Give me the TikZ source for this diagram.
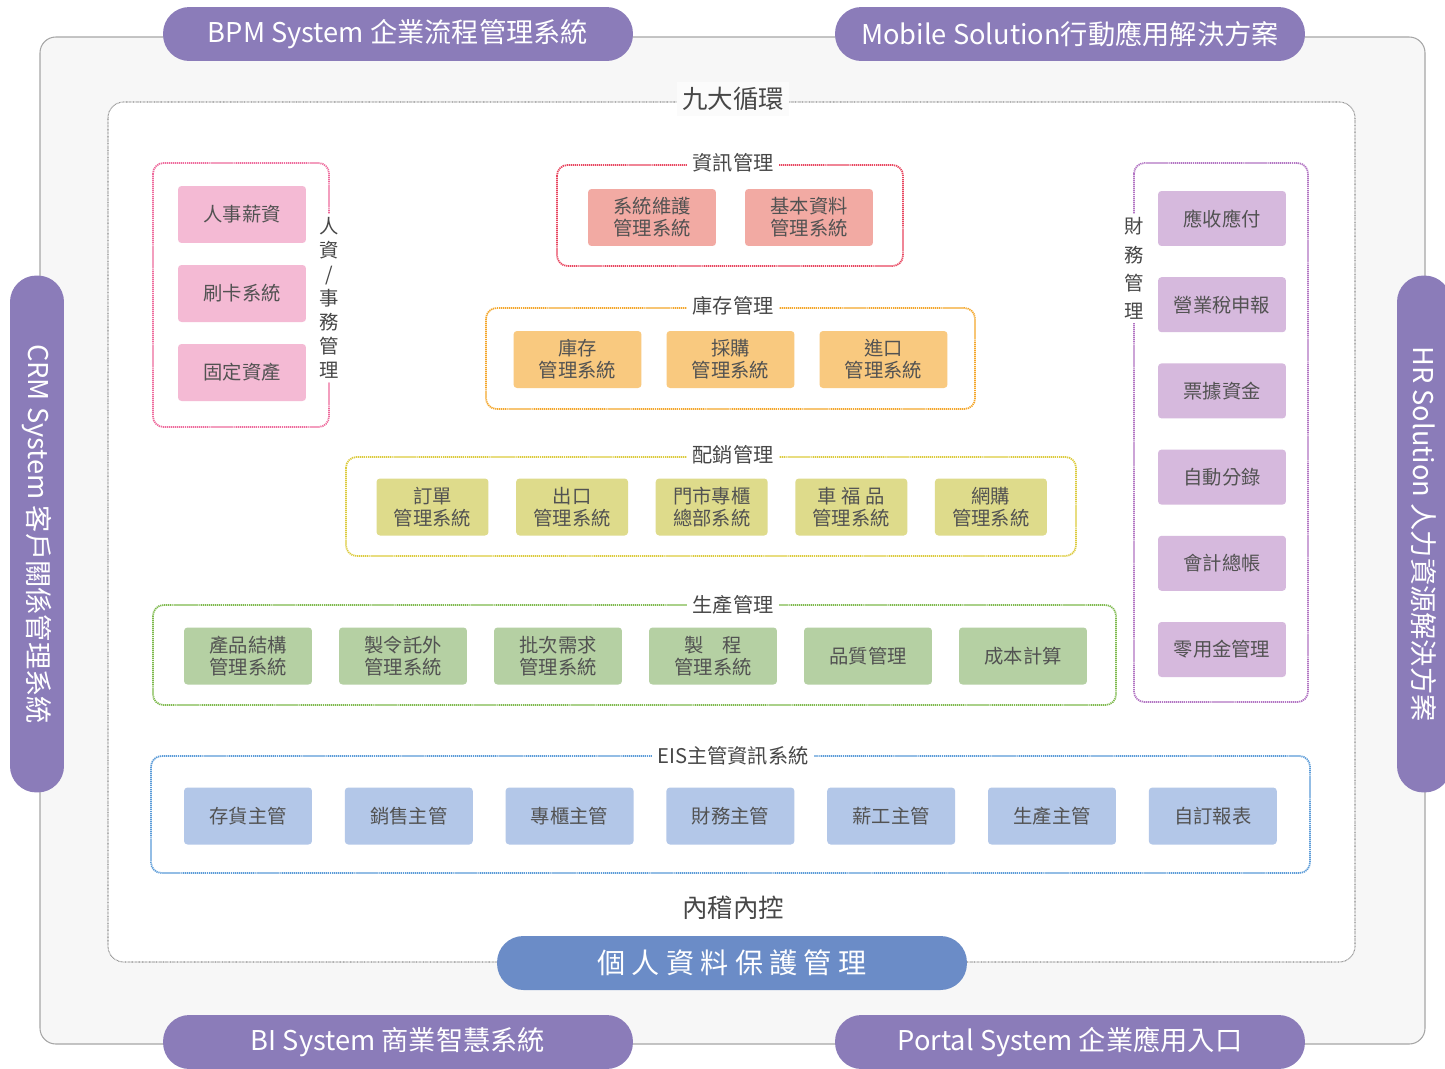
\documentclass[tikz,border=0pt]{standalone}
\usepackage{fontspec}
\setmainfont{Noto Sans CJK TC}
\usepackage{tikz}
\usetikzlibrary{positioning,calc}
\definecolor{pillpurple}{HTML}{8B7CB9}
\definecolor{pillblue}{HTML}{6B8CC7}
\definecolor{hrfill}{HTML}{F4BAD4}
\definecolor{hrline}{HTML}{EE6A9C}
\definecolor{infofill}{HTML}{F2AAA3}
\definecolor{infoline}{HTML}{E8455F}
\definecolor{invfill}{HTML}{F9C97F}
\definecolor{invline}{HTML}{F4A62A}
\definecolor{distfill}{HTML}{DEDB8B}
\definecolor{distline}{HTML}{DCCB3C}
\definecolor{prodfill}{HTML}{B5D0A3}
\definecolor{prodline}{HTML}{7DB94C}
\definecolor{finfill}{HTML}{D6B9DD}
\definecolor{finline}{HTML}{B274C3}
\definecolor{eisfill}{HTML}{B3C7E8}
\definecolor{eisline}{HTML}{5A9BD8}
\tikzset{
  pill/.style={rectangle, rounded corners=15pt, fill=pillpurple, text=white,
    minimum width=9.4cm, minimum height=1.08cm, inner sep=0pt,
    font=\fontsize{15.5}{18}\selectfont},
  modbox/.style={rectangle, rounded corners=2pt, minimum width=2.56cm,
    minimum height=1.14cm, inner sep=1pt, align=center, text=black!68,
    font=\fontsize{11}{12.6}\selectfont},
  grouplabel/.style={fill=white, text=black!72, inner sep=3pt,
    font=\fontsize{11.5}{13}\selectfont},
  vlabel/.style={fill=white, text=black!72, inner sep=2pt, align=center},
  groupframe/.style={rounded corners=6pt, line width=1pt,
    dash pattern=on 0.7pt off 0.45pt}
}

\begin{document}
\begin{tikzpicture}[x=0.02cm,y=-0.02cm]
\clip (0,0) rectangle (1445,1069);
\fill[white] (0,0) rectangle (1445,1069);
% outer and inner frame
\draw[black!35,fill=black!3,rounded corners=9pt,line width=0.6pt] (40,37) rectangle (1425,1044);
\draw[black!45,fill=white,rounded corners=9pt,line width=0.6pt,dash pattern=on 0.4pt off 0.4pt] (108,102) rectangle (1355,962);
\node[grouplabel,fill=black!1.5,font=\fontsize{14.5}{16}\selectfont] (cycle) at (733,99) {九大循環};
\node[text=black!72,font=\fontsize{14.5}{16}\selectfont] (audit) at (733,908) {內稽內控};

% system pills
\node[pill] (bpm) at (398,34) {BPM System 企業流程管理系統};
\node[pill] (mobile) at (1070,34) {Mobile Solution行動應用解決方案};
\node[pill] (bi) at (398,1042) {BI System 商業智慧系統};
\node[pill] (portal) at (1070,1042) {Portal System 企業應用入口};
\node[pill,rotate=-90,minimum width=10.34cm] (crm) at (37,534) {CRM System 客戶關係管理系統};
\node[pill,rotate=-90,minimum width=10.34cm] (hrsol) at (1424,534) {HR Solution 人力資源解決方案};
\node[pill,fill=pillblue,font=\fontsize{16}{18}\selectfont] (privacy) at (732,963) {個 人 資 料 保 護 管 理};

% 人資/事務管理
\draw[groupframe,hrline] (153,163) rectangle (329,427);
\foreach \t [count=\i] in {人事薪資,刷卡系統,固定資產}
  \node[modbox,fill=hrfill] (hr\i) at (242,{214.5+79*(\i-1)}) {\t};
\node[vlabel,font=\fontsize{11}{13.6}\selectfont] (hrlabel) at (329,298) {人\\資\\/\\事\\務\\管\\理};

% 資訊管理
\draw[groupframe,infoline] (557,165) rectangle (903,266);
\node[grouplabel] (info) at (733,163) {資訊管理};
\foreach \t [count=\i] in {{系統維護\\管理系統},{基本資料\\管理系統}}
  \node[modbox,fill=infofill] (info\i) at ({652+157*(\i-1)},217.5) {\t};

% 庫存管理
\draw[groupframe,invline] (486,308) rectangle (975,409);
\node[grouplabel] (inv) at (733,306) {庫存管理};
\foreach \t [count=\i] in {{庫存\\管理系統},{採購\\管理系統},{進口\\管理系統}}
  \node[modbox,fill=invfill] (inv\i) at ({577.5+153*(\i-1)},359.5) {\t};

% 配銷管理
\draw[groupframe,distline] (346,457) rectangle (1076,556);
\node[grouplabel] (dist) at (733,455) {配銷管理};
\foreach \t [count=\i] in {{訂單\\管理系統},{出口\\管理系統},{門市專櫃\\總部系統},{車 福 品\\管理系統},{網購\\管理系統}}
  \node[modbox,fill=distfill,minimum width=2.24cm] (dist\i) at ({432.5+139.6*(\i-1)},507) {\t};

% 生產管理
\draw[groupframe,prodline] (153,605) rectangle (1116,705);
\node[grouplabel] (prod) at (733,605) {生產管理};
\foreach \t [count=\i] in {{產品結構\\管理系統},{製令託外\\管理系統},{批次需求\\管理系統},{製\hspace{1em}程\\管理系統},品質管理,成本計算}
  \node[modbox,fill=prodfill] (prod\i) at ({248+155*(\i-1)},656) {\t};

% 財務管理
\draw[groupframe,finline] (1134,163) rectangle (1308,702);
\foreach \t [count=\i] in {應收應付,營業稅申報,票據資金,自動分錄,會計總帳,零用金管理}
  \node[modbox,fill=finfill,minimum height=1.1cm] (fin\i) at (1222,{218.5+86.2*(\i-1)}) {\t};
\node[vlabel,font=\fontsize{11}{16}\selectfont] (finlabel) at (1134,268.5) {財\\務\\管\\理};

% EIS主管資訊系統
\draw[groupframe,eisline] (151,756) rectangle (1310,873);
\node[grouplabel] (eis) at (733,756) {EIS主管資訊系統};
\foreach \t [count=\i] in {存貨主管,銷售主管,專櫃主管,財務主管,薪工主管,生產主管,自訂報表}
  \node[modbox,fill=eisfill] (eis\i) at ({248+160.8*(\i-1)},816) {\t};
\end{tikzpicture}
\end{document}
